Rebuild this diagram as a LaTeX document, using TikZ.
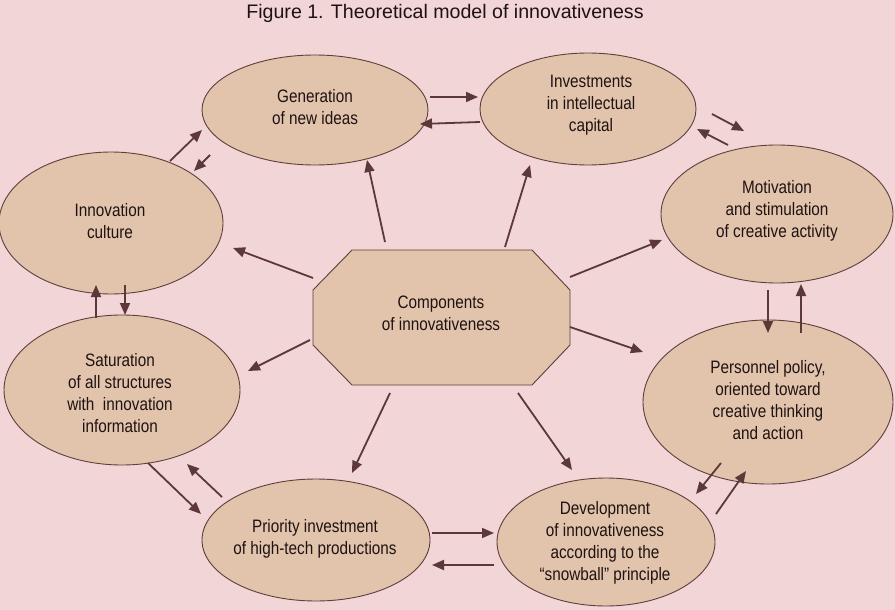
\documentclass[tikz,border=0pt]{standalone}
\usepackage{fontspec}
\setmainfont[FakeStretch=0.85]{Liberation Sans}
\newfontfamily\titlefont{Liberation Sans}
\usetikzlibrary{shapes.geometric,arrows.meta}
\definecolor{bgpink}{RGB}{242,213,215}
\definecolor{tan}{RGB}{226,196,172}
\definecolor{edge}{RGB}{95,62,60}
\definecolor{arrowc}{RGB}{92,56,56}
\definecolor{txt}{RGB}{30,18,18}
\tikzset{
  oval/.style={ellipse, draw=edge, fill=tan, line width=0.9pt, inner sep=0pt, text=txt, align=center,
    font=\fontsize{18}{22}\selectfont},
  lbl/.style={text=txt, align=center, font=\fontsize{18}{21.8}\selectfont},
  arr/.style={draw=arrowc, line width=1.8pt, -{Triangle[length=12pt,width=10pt]}},
}
\begin{document}
\begin{tikzpicture}[x=1pt,y=-1pt]
\useasboundingbox (0,0) rectangle (895,610);
\fill[bgpink] (0,0) rectangle (895,610);
\node[text=txt, font=\titlefont\fontsize{19.6}{24}\selectfont] (title) at (445,13) {Figure 1. Theoretical model of innovativeness};

\node[oval, minimum width=226pt, minimum height=110pt] (gen) at (315,110) {};
\node[lbl] at (315,107) {Generation\\of new ideas};
\node[oval, minimum width=216pt, minimum height=112pt] (inv) at (588,109) {};
\node[lbl] at (591,105) {Investments\\in intellectual\\capital};
\node[oval, minimum width=232pt, minimum height=138pt] (mot) at (777,214) {};
\node[lbl] at (777,211) {Motivation\\and stimulation\\of creative activity};
\node[oval, minimum width=224pt, minimum height=142pt] (cul) at (111,223) {};
\node[lbl] at (110,221) {Innovation\\culture};
\node[oval, minimum width=236pt, minimum height=150pt] (sat) at (122,390) {};
\node[lbl] at (120,393) {Saturation\\of all structures\\with\ \ innovation\\information};
\node[oval, minimum width=250pt, minimum height=164pt] (per) at (768,402) {};
\node[lbl] at (768,400) {Personnel policy,\\oriented toward\\creative thinking\\and action};
\node[oval, minimum width=228pt, minimum height=122pt] (pri) at (316,540) {};
\node[lbl] at (315,539) {Priority investment\\of high-tech productions};
\node[oval, minimum width=218pt, minimum height=128pt] (dev) at (606,542) {};
\node[lbl] at (605,543) {Development\\of innovativeness\\according to the\\``snowball'' principle};

\filldraw[fill=tan, draw=edge, line width=0.9pt]
  (352,250) -- (532,250) -- (570,290) -- (570,345) -- (532,385) -- (352,385) -- (313,345) -- (313,290) -- cycle;
\node[lbl] (comp) at (441,313) {Components\\of innovativeness};

% radial arrows
\coordinate (r1a) at (385,242); \coordinate (r1b) at (367,160);
\coordinate (r2a) at (505,247); \coordinate (r2b) at (530,165);
\coordinate (r3a) at (570,277); \coordinate (r3b) at (662,240);
\coordinate (r4a) at (313,278); \coordinate (r4b) at (233,248);
\coordinate (r5a) at (310,340); \coordinate (r5b) at (248,371);
\coordinate (r6a) at (570,327); \coordinate (r6b) at (643,352);
\coordinate (r7a) at (390,393); \coordinate (r7b) at (352,473);
\coordinate (r8a) at (518,393); \coordinate (r8b) at (572,470);
\foreach \i in {1,...,8} { \draw[arr] (r\i a) -- (r\i b); }

% paired arrows
\coordinate (p1a) at (430,97);  \coordinate (p1b) at (478,97);
\coordinate (p2a) at (480,122); \coordinate (p2b) at (420,124);
\coordinate (p3a) at (712,114); \coordinate (p3b) at (744,131);
\coordinate (p4a) at (728,145); \coordinate (p4b) at (697,129);
\coordinate (p5a) at (170,161); \coordinate (p5b) at (202,130);
\coordinate (p6a) at (210,155); \coordinate (p6b) at (194,171);
\coordinate (p7a) at (96,318);  \coordinate (p7b) at (96,285);
\coordinate (p8a) at (125,285); \coordinate (p8b) at (125,315);
\coordinate (p9a) at (148,463); \coordinate (p9b) at (201,514);
\coordinate (p10a) at (222,497); \coordinate (p10b) at (187,464);
\coordinate (p11a) at (432,533); \coordinate (p11b) at (494,533);
\coordinate (p12a) at (494,565); \coordinate (p12b) at (432,565);
\coordinate (p13a) at (721,463); \coordinate (p13b) at (696,494);
\coordinate (p14a) at (716,514); \coordinate (p14b) at (746,471);
\coordinate (p15a) at (768,290); \coordinate (p15b) at (768,333);
\coordinate (p16a) at (801,333); \coordinate (p16b) at (801,284);
\foreach \i in {1,...,16} { \draw[arr] (p\i a) -- (p\i b); }
\end{tikzpicture}
\end{document}
